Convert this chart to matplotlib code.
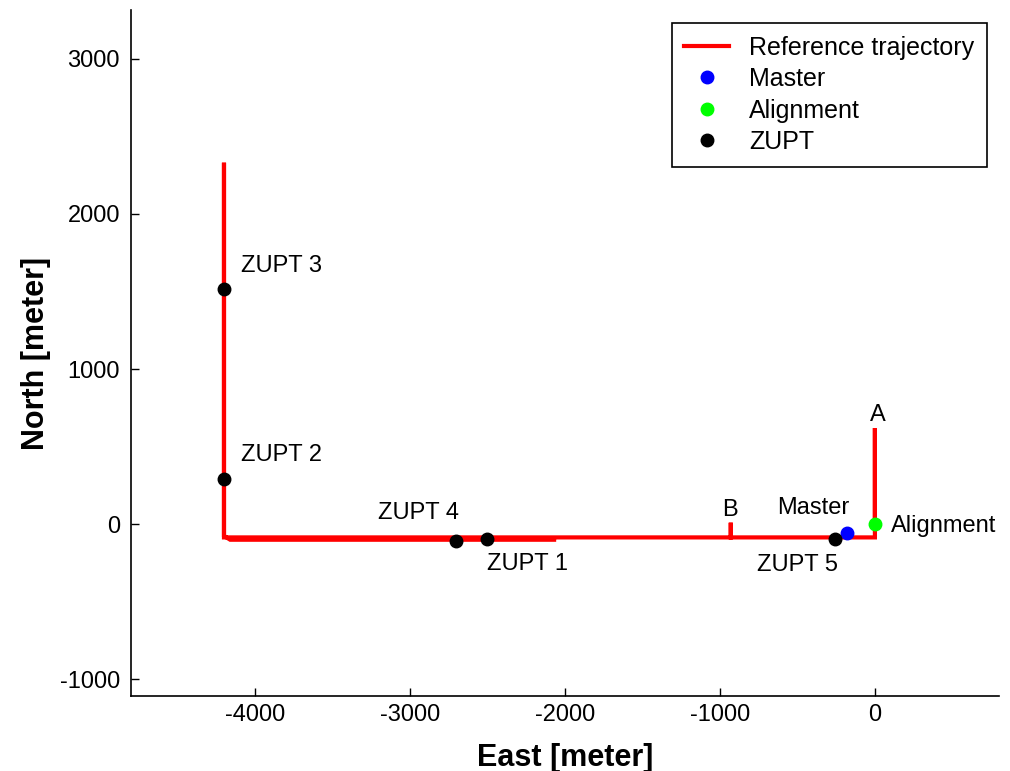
import numpy as np
import matplotlib.pyplot as plt
from matplotlib.lines import Line2D

plt.rcParams['font.family'] = ['Liberation Sans', 'DejaVu Sans']
plt.rcParams['axes.unicode_minus'] = False

# reference trajectory (east, north) in meters
traj_east = [0, 0, 0, -930, -930, -930, -4200, -4200, -4200, -4160, -2070]
traj_north = [0, 620, -85, -85, 10, -85, -85, 2330, -75, -100, -100]

# event positions
master_en = (-178, -57)
alignment_en = (0, 0)
zupt_names = ['ZUPT 1', 'ZUPT 2', 'ZUPT 3', 'ZUPT 4', 'ZUPT 5']
zupt_east = [-2500, -4200, -4200, -2700, -258]
zupt_north = [-95, 290, 1515, -105, -97]

# label anchors (left/centre of text)
zupt_label_pos = [(-2503, -257), (-4092, 446), (-4092, 1664), (-3207, 72), (-759, -263)]
point_labels = [('Master', -630, 104, 'left'), ('Alignment', 101, -12, 'left'),
                ('A', 17, 704, 'center'), ('B', -933, 91, 'center')]

fig = plt.figure(figsize=(10.1, 7.71), dpi=100)
ax = fig.add_axes([0.1297, 0.0973, 0.8593, 0.8897])

ax.plot(traj_east, traj_north, color='red', lw=3, solid_joinstyle='miter')
ax.plot(*master_en, 'o', color='blue', ms=9, mec='blue')
ax.plot(*alignment_en, 'o', color='#00ff00', ms=9, mec='#00ff00')
ax.plot(zupt_east, zupt_north, 'o', color='black', ms=9, ls='none')

for name, (tx, ty) in zip(zupt_names, zupt_label_pos):
    ax.text(tx, ty, name, fontsize=17, ha='left', va='center')
for name, tx, ty, ha in point_labels:
    ax.text(tx, ty, name, fontsize=17, ha=ha, va='center')

ax.set_xlim(-4800, 800)
ax.set_ylim(-1107, 3314)
ax.set_xticks([-4000, -3000, -2000, -1000, 0])
ax.set_yticks([-1000, 0, 1000, 2000, 3000])
ax.tick_params(direction='in', length=6, width=1, labelsize=17)
ax.tick_params(axis='x', pad=6)
ax.tick_params(axis='y', pad=8)
for side in ['top', 'right']:
    ax.spines[side].set_visible(False)
for side in ['left', 'bottom']:
    ax.spines[side].set_linewidth(1.2)

ax.set_xlabel('East [meter]', fontsize=22, fontweight='bold', labelpad=12)
ax.set_ylabel('North [meter]', fontsize=22, fontweight='bold', labelpad=6)

handles = [
    Line2D([], [], color='red', lw=3),
    Line2D([], [], marker='o', color='blue', ls='none', ms=9),
    Line2D([], [], marker='o', color='#00ff00', ls='none', ms=9),
    Line2D([], [], marker='o', color='black', ls='none', ms=9),
]
labels = ['Reference trajectory', 'Master', 'Alignment', 'ZUPT']
leg = ax.legend(handles, labels, loc='upper right', bbox_to_anchor=(0.977, 0.970),
                bbox_transform=fig.transFigure, prop={'size': 18}, frameon=True,
                fancybox=False, edgecolor='black', framealpha=1, borderaxespad=0,
                handlelength=1.8, handletextpad=0.8, labelspacing=0.3, borderpad=0.5)
leg.get_frame().set_linewidth(1.2)

fig.savefig('out.png', dpi=100)
